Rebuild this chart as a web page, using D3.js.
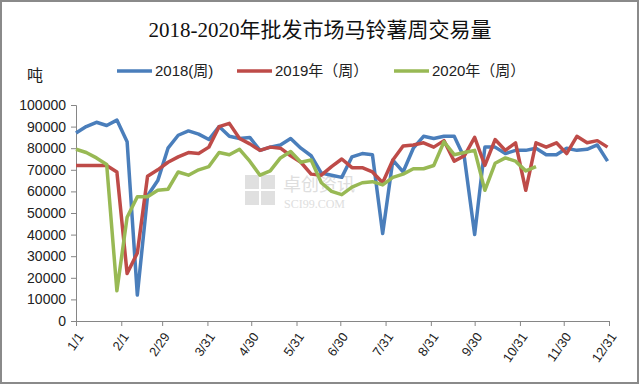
<!DOCTYPE html>
<html>
<head>
<meta charset="utf-8">
<script src="https://cdn.jsdelivr.net/npm/d3@7"></script>
<style>
body { margin: 0; background: #fff; }
svg { display: block; }
</style>
</head>
<body>
<script>
// weekly volumes (tonnes), one point per week from 1/1
var v2018 = [87000, 90000, 92000, 90500, 93000, 83000, 12000, 58000, 65000, 80000,
  86000, 88000, 86500, 84000, 90000, 85500, 84500, 85000, 79000, 80500,
  81500, 84500, 80000, 76500, 68500, 67500, 66500, 76000, 77500, 77000,
  40500, 74500, 69000, 80000, 85500, 84500, 85500, 85500, 75500, 40000,
  80500, 80500, 77500, 79000, 79000, 80000, 77000, 77000, 80000, 79000,
  79500, 81500, 74000];
var v2019 = [72000, 72000, 72000, 72000, 69000, 22000, 31500, 67000, 70000, 73500,
  76000, 78000, 77500, 80500, 90000, 91500, 84500, 82000, 79000, 80500,
  80000, 76500, 73500, 68000, 67500, 71500, 75000, 71000, 71000, 69000,
  64000, 74500, 81000, 81500, 82500, 80500, 83500, 74000, 76500, 85000,
  72000, 84000, 79000, 82500, 60500, 82500, 80500, 82500, 77500, 85500,
  82500, 83500, 80500];
var v2020 = [79500, 78000, 75500, 72500, 14000, 48000, 57500, 57500, 60500, 61000,
  69000, 67500, 70000, 71500, 78000, 77000, 79500, 74000, 67500, 69500,
  75500, 78500, 73500, 74500, 64000, 60000, 58500, 62000, 64000, 64500,
  63000, 66500, 68000, 70500, 70500, 72000, 83000, 77000, 78000, 79000,
  60500, 73000, 75500, 74000, 69500, 71500];

var seriesNames = ["2018(周)", "2019年（周）", "2020年（周）"];
var seriesColors = ["#4a7ebb", "#be4b48", "#98b954"];
var tickLabels = ["1/1", "2/1", "2/29", "3/31", "4/30", "5/31", "6/30", "7/31", "8/31", "9/30", "10/31", "11/30", "12/31"];
var yTicks = [0, 10000, 20000, 30000, 40000, 50000, 60000, 70000, 80000, 90000, 100000];

var W = 640, H = 385;
var margin = {left: 76, right: 609, top: 105, bottom: 321};

var parse = d3.timeParse("%Y/%m/%d");
var tickDates = tickLabels.map(function(t) { return parse("2020/" + t); });
var start = tickDates[0];

var x = d3.scaleTime().domain([tickDates[0], tickDates[tickDates.length - 1]]).range([margin.left, margin.right]);
var y = d3.scaleLinear().domain([0, 100000]).range([margin.bottom, margin.top]);

var svg = d3.select("body").append("svg")
  .attr("width", W)
  .attr("height", H);

svg.append("rect")
  .attr("x", 1).attr("y", 1)
  .attr("width", W - 3).attr("height", H - 3)
  .attr("fill", "#fff")
  .attr("stroke", "#8a8a8a")
  .attr("stroke-width", 2);

// title
svg.append("text")
  .attr("x", 320)
  .attr("y", 37)
  .attr("text-anchor", "middle")
  .style("font-family", "'Liberation Serif', 'Noto Sans CJK SC', serif")
  .style("font-size", "21px")
  .attr("fill", "#111")
  .text("2018-2020年批发市场马铃薯周交易量");

// unit
svg.append("text")
  .attr("x", 27)
  .attr("y", 81)
  .style("font-family", "'Noto Sans CJK SC', sans-serif")
  .style("font-size", "16px")
  .attr("fill", "#222")
  .text("吨");

// watermark
var wm = svg.append("g").attr("opacity", 0.55);
[[0, 0], [16, 0], [0, 16], [16, 16]].forEach(function(p) {
  wm.append("rect")
    .attr("x", 245 + p[0]).attr("y", 175 + p[1])
    .attr("width", 14).attr("height", 14)
    .attr("fill", "#c8c8c8");
});
wm.append("text")
  .attr("x", 283).attr("y", 191)
  .style("font-family", "'Noto Sans CJK SC', sans-serif")
  .style("font-size", "18px")
  .attr("fill", "#c4c4c4")
  .text("卓创资讯");
wm.append("text")
  .attr("x", 284).attr("y", 208)
  .style("font-family", "'Liberation Serif', serif")
  .style("font-size", "12px")
  .attr("fill", "#c4c4c4")
  .text("SCI99.COM");

// axes
var yAxis = d3.axisLeft(y).tickValues(yTicks).tickSize(5).tickPadding(5).tickFormat(d3.format("d"));
var gy = svg.append("g")
  .attr("transform", "translate(" + margin.left + ",0)")
  .call(yAxis);

var xAxis = d3.axisBottom(x).tickValues(tickDates).tickSize(5)
  .tickFormat(function(d, i) { return tickLabels[i]; });
var gx = svg.append("g")
  .attr("transform", "translate(0," + margin.bottom + ")")
  .call(xAxis);

svg.selectAll(".domain, .tick line").attr("stroke", "#868686");
gy.selectAll("text")
  .style("font-family", "'Liberation Sans', sans-serif")
  .style("font-size", "14px")
  .attr("fill", "#222");
gx.selectAll("text")
  .style("font-family", "'Liberation Sans', sans-serif")
  .style("font-size", "13px")
  .attr("fill", "#222")
  .attr("text-anchor", "end")
  .attr("x", 0)
  .attr("y", 0)
  .attr("dy", "0.35em")
  .attr("transform", "translate(4,13) rotate(-55)");

// lines
var line = d3.line()
  .x(function(d, i) { return x(d3.timeDay.offset(start, 7 * i)); })
  .y(function(d) { return y(d); });

[v2018, v2019, v2020].forEach(function(vals, k) {
  svg.append("path")
    .datum(vals)
    .attr("fill", "none")
    .attr("stroke", seriesColors[k])
    .attr("stroke-width", 3.5)
    .attr("stroke-linejoin", "round")
    .attr("d", line);
});

// legend
var legendX = [117, 237, 394];
var legend = svg.selectAll(".legend")
  .data(seriesNames)
  .enter().append("g")
  .attr("class", "legend")
  .attr("transform", function(d, i) { return "translate(" + legendX[i] + ",71)"; });
legend.append("line")
  .attr("x1", 0).attr("x2", 35)
  .attr("stroke", function(d, i) { return seriesColors[i]; })
  .attr("stroke-width", 3.5);
legend.append("text")
  .attr("x", 38)
  .attr("dy", "0.35em")
  .style("font-family", "'Liberation Sans', 'Noto Sans CJK SC', sans-serif")
  .style("font-size", "15px")
  .attr("fill", "#222")
  .text(function(d) { return d; });
</script>
</body>
</html>
